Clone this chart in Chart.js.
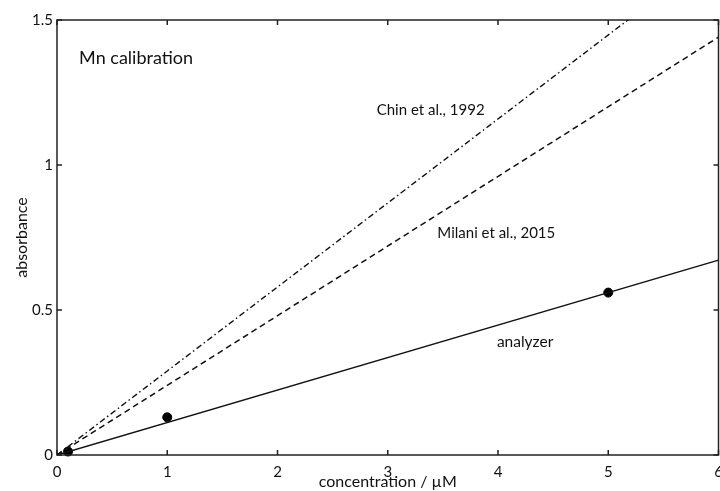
<!DOCTYPE html>
<html lang="en">
<head>
    <meta charset="UTF-8">
    <title>Mn calibration</title>
    <style>
        body {
            margin: 0;
            background: #fff;
            overflow: hidden;
        }
        #wrap {
            width: 720px;
            height: 491px;
            overflow: hidden;
        }
    </style>
</head>
<body>
    <div id="wrap">
        <!-- canvas a bit wider than the window so the last x label is cut at the edge, like the original -->
        <canvas id="calChart" width="724" height="491"></canvas>
    </div>

    <script src="https://cdn.jsdelivr.net/npm/chart.js"></script>

    <script>
        // measured standards
        const concPoints = [0.1, 1, 5];
        const absPoints = [0.012, 0.13, 0.56];

        // calibration lines, drawn between x = 0 and x = 6
        const lineX = [0, 6];
        const analyzerLine = [0, 0.672];
        const milaniLine = [0, 1.441];
        const chinLine = [0, 1.738];

        const xTicks = [0, 1, 2, 3, 4, 5, 6];
        const yTicks = [0, 0.5, 1, 1.5];

        // text labels, placed in data units
        const notes = [
            { text: "Mn calibration", x: 0.2, y: 1.37, size: 18 },
            { text: "Chin et al., 1992", x: 2.9, y: 1.19, size: 15 },
            { text: "Milani et al., 2015", x: 3.45, y: 0.765, size: 15 },
            { text: "analyzer", x: 3.99, y: 0.39, size: 15.5 }
        ];

        const FONT = "Lato, 'Open Sans', sans-serif";

        function pts(xs, ys) {
            return xs.map((x, i) => ({ x: x, y: ys[i] }));
        }

        // frame, inward ticks and text labels
        const framePlugin = {
            id: "frame",
            afterDraw(chart) {
                const c = chart.ctx;
                const a = chart.chartArea;
                const xs = chart.scales.x;
                const ys = chart.scales.y;
                c.save();
                c.strokeStyle = "#222";
                c.lineWidth = 1.5;
                c.strokeRect(a.left, a.top, a.right - a.left, a.bottom - a.top);
                c.beginPath();
                xTicks.forEach(v => {
                    let px = xs.getPixelForValue(v);
                    c.moveTo(px, a.bottom); c.lineTo(px, a.bottom - 5);
                    c.moveTo(px, a.top); c.lineTo(px, a.top + 5);
                });
                yTicks.forEach(v => {
                    let py = ys.getPixelForValue(v);
                    c.moveTo(a.left, py); c.lineTo(a.left + 5, py);
                    c.moveTo(a.right, py); c.lineTo(a.right - 5, py);
                });
                c.stroke();

                c.fillStyle = "#111";
                c.textBaseline = "middle";
                notes.forEach(n => {
                    c.font = n.size + "px " + FONT;
                    c.fillText(n.text, xs.getPixelForValue(n.x), ys.getPixelForValue(n.y));
                });
                c.restore();
            }
        };

        const ctx = document.getElementById("calChart").getContext("2d");
        new Chart(ctx, {
            type: "scatter",
            data: {
                datasets: [
                    {
                        label: "Chin et al., 1992",
                        data: pts(lineX, chinLine),
                        showLine: true,
                        borderColor: "#111",
                        borderWidth: 1.4,
                        borderDash: [6, 3, 1.5, 3],
                        pointRadius: 0
                    },
                    {
                        label: "Milani et al., 2015",
                        data: pts(lineX, milaniLine),
                        showLine: true,
                        borderColor: "#111",
                        borderWidth: 1.5,
                        borderDash: [6, 4],
                        pointRadius: 0
                    },
                    {
                        label: "analyzer",
                        data: pts(lineX, analyzerLine),
                        showLine: true,
                        borderColor: "#111",
                        borderWidth: 1.5,
                        pointRadius: 0
                    },
                    {
                        label: "standards",
                        data: pts(concPoints, absPoints),
                        showLine: false,
                        backgroundColor: "#000",
                        borderColor: "#000",
                        pointRadius: 4.5,
                        clip: false
                    }
                ]
            },
            options: {
                responsive: false,
                animation: false,
                layout: { padding: { left: 0, right: -2, top: 20, bottom: 0 } },
                plugins: {
                    legend: { display: false },
                    tooltip: { enabled: false }
                },
                scales: {
                    x: {
                        type: "linear",
                        min: 0,
                        max: 6,
                        grid: { display: false, drawTicks: false },
                        border: { display: false },
                        afterBuildTicks: s => { s.ticks = xTicks.map(v => ({ value: v })); },
                        ticks: {
                            color: "#111",
                            padding: 8,
                            font: { family: FONT, size: 15 },
                            maxRotation: 0
                        },
                        title: {
                            display: true,
                            text: "concentration / µM",
                            color: "#111",
                            font: { family: FONT, size: 16 },
                            padding: { top: 0, bottom: 0 }
                        },
                        afterFit: s => {
                            s.height = 36;
                            s.paddingLeft = 0;
                            s.paddingRight = 0;
                        }
                    },
                    y: {
                        type: "linear",
                        min: 0,
                        max: 1.5,
                        grid: { display: false, drawTicks: false },
                        border: { display: false },
                        afterBuildTicks: s => { s.ticks = yTicks.map(v => ({ value: v })); },
                        ticks: {
                            color: "#111",
                            padding: 4,
                            font: { family: FONT, size: 15 },
                            callback: v => String(v)
                        },
                        title: {
                            display: true,
                            text: "absorbance",
                            color: "#111",
                            font: { family: FONT, size: 16 },
                            padding: { top: 12, bottom: 6 }
                        },
                        afterFit: s => {
                            s.width = 57;
                            s.paddingTop = 0;
                            s.paddingBottom = 0;
                        }
                    }
                }
            },
            plugins: [framePlugin]
        });
    </script>
</body>
</html>
